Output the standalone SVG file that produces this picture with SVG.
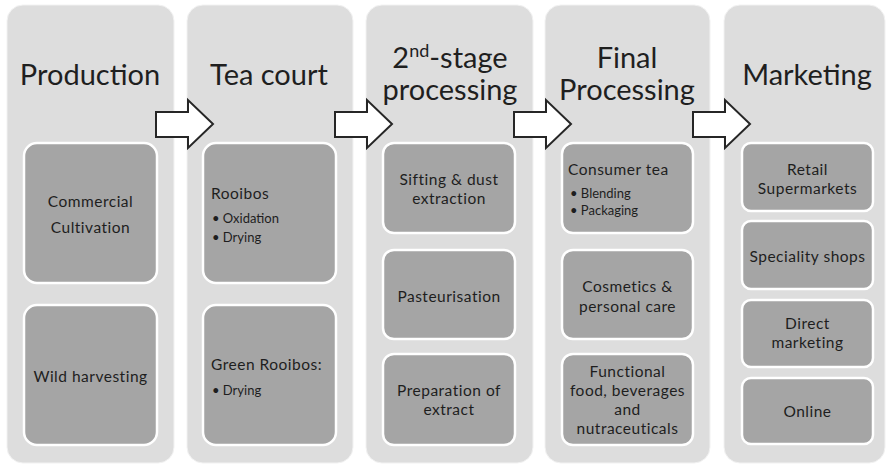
<svg xmlns="http://www.w3.org/2000/svg" width="887" height="466" viewBox="0 0 887 466">
<defs>
<style>
.col{fill:#dddddd;stroke:#f2f2f2;stroke-width:1}
.box{fill:#a5a5a5;stroke:#ffffff;stroke-width:2.5}
.title{font-family:Lato,"Open Sans",sans-serif;font-size:29px;fill:#1f1f1f;text-anchor:middle}
.t{font-family:Lato,"Open Sans",sans-serif;font-size:15.5px;letter-spacing:0.5px;fill:#1e1e1e;text-anchor:middle}
.tl{font-family:Lato,"Open Sans",sans-serif;font-size:15.5px;letter-spacing:0.5px;fill:#1e1e1e}
.b{font-family:Lato,"Open Sans",sans-serif;font-size:13px;fill:#1e1e1e}
.arrow{fill:#ffffff;stroke:#262626;stroke-width:2;stroke-linejoin:miter}
</style>
<path id="arr" d="M0,12 H32 V0 L57,24 L32,48 V37 H0 Z"/>
</defs>
<rect width="887" height="466" fill="#ffffff"/>

<g id="production">
<rect class="col" x="7" y="5" width="167" height="458" rx="16"/>
<text class="title" x="90" y="85">Production</text>
</g>
<g id="commercial-cultivation">
<rect class="box" x="24" y="143" width="133" height="140" rx="13"/>
<text class="t" x="90.5" y="207">Commercial</text>
<text class="t" x="90.5" y="233">Cultivation</text>
</g>
<g id="wild-harvesting">
<rect class="box" x="24" y="305" width="133" height="140" rx="13"/>
<text class="t" x="90.5" y="382">Wild harvesting</text>
</g>

<g id="tea-court">
<rect class="col" x="187" y="5" width="166" height="458" rx="16"/>
<text class="title" x="269" y="85">Tea court</text>
</g>
<g id="rooibos">
<rect class="box" x="203" y="143" width="133" height="140" rx="13"/>
<text class="tl" x="211" y="199">Rooibos</text>
<text class="b" x="212" y="223">• Oxidation</text>
<text class="b" x="212" y="242">• Drying</text>
</g>
<g id="green-rooibos">
<rect class="box" x="203" y="305" width="133" height="140" rx="13"/>
<text class="tl" x="211" y="370">Green Rooibos:</text>
<text class="b" x="212" y="395">• Drying</text>
</g>

<g id="second-stage">
<rect class="col" x="366" y="5" width="167" height="458" rx="16"/>
<text class="title" x="450" y="68">2<tspan font-size="18" dy="-11">nd</tspan><tspan dy="11">-stage</tspan></text>
<text class="title" x="450" y="100">processing</text>
</g>
<g id="sifting">
<rect class="box" x="383" y="143" width="132" height="90" rx="11"/>
<text class="t" x="449" y="185">Sifting &amp; dust</text>
<text class="t" x="449" y="204">extraction</text>
</g>
<g id="pasteurisation">
<rect class="box" x="383" y="250" width="132" height="89" rx="11"/>
<text class="t" x="449" y="302">Pasteurisation</text>
</g>
<g id="extract">
<rect class="box" x="383" y="354" width="132" height="91" rx="11"/>
<text class="t" x="449" y="396">Preparation of</text>
<text class="t" x="449" y="415">extract</text>
</g>

<g id="final-processing">
<rect class="col" x="545" y="5" width="165" height="458" rx="16"/>
<text class="title" x="627" y="68">Final</text>
<text class="title" x="627" y="100">Processing</text>
</g>
<g id="consumer-tea">
<rect class="box" x="562" y="143" width="131" height="90" rx="11"/>
<text class="tl" x="568" y="175">Consumer tea</text>
<text class="b" x="570" y="198">• Blending</text>
<text class="b" x="570" y="215">• Packaging</text>
</g>
<g id="cosmetics">
<rect class="box" x="562" y="250" width="131" height="89" rx="11"/>
<text class="t" x="627.5" y="292">Cosmetics &amp;</text>
<text class="t" x="627.5" y="312">personal care</text>
</g>
<g id="functional">
<rect class="box" x="562" y="354" width="131" height="91" rx="11"/>
<text class="t" x="627.5" y="377">Functional</text>
<text class="t" x="627.5" y="396">food, beverages</text>
<text class="t" x="627.5" y="415">and</text>
<text class="t" x="627.5" y="434">nutraceuticals</text>
</g>

<g id="marketing">
<rect class="col" x="724" y="5" width="161" height="458" rx="16"/>
<text class="title" x="807" y="85">Marketing</text>
</g>
<g id="retail">
<rect class="box" x="742" y="143" width="131" height="68" rx="9"/>
<text class="t" x="807.5" y="175">Retail</text>
<text class="t" x="807.5" y="194">Supermarkets</text>
</g>
<g id="speciality">
<rect class="box" x="742" y="221" width="131" height="68" rx="9"/>
<text class="t" x="807.5" y="262">Speciality shops</text>
</g>
<g id="direct">
<rect class="box" x="742" y="300" width="131" height="67" rx="9"/>
<text class="t" x="807.5" y="329">Direct</text>
<text class="t" x="807.5" y="348">marketing</text>
</g>
<g id="online">
<rect class="box" x="742" y="378" width="131" height="66" rx="9"/>
<text class="t" x="807.5" y="417">Online</text>
</g>

<g id="connectors">
<use href="#arr" class="arrow" x="156" y="100"/>
<use href="#arr" class="arrow" x="335" y="100"/>
<use href="#arr" class="arrow" x="514" y="100"/>
<use href="#arr" class="arrow" x="693" y="100"/>
</g>
</svg>
